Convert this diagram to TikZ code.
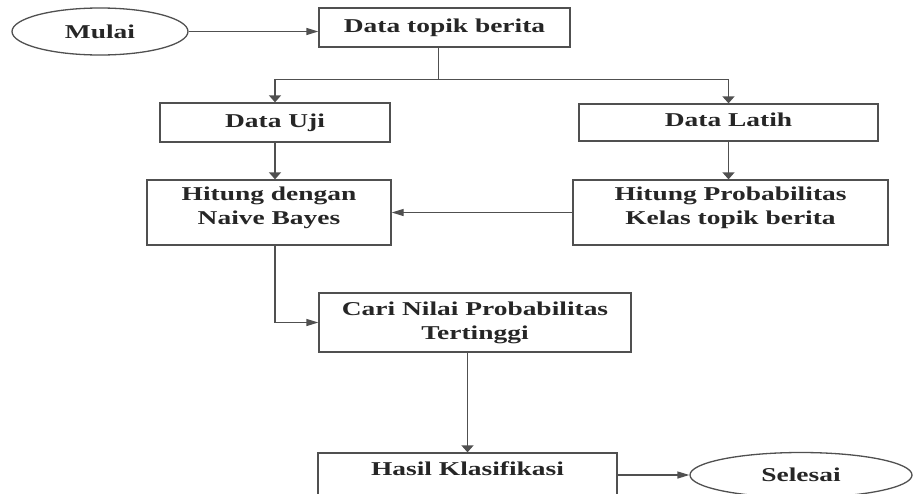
\documentclass[tikz,border=0pt]{standalone}
\usepackage{fontspec}
\setmainfont{Liberation Serif}[FakeStretch=1.4]
\usetikzlibrary{shapes.geometric,arrows.meta}

\definecolor{garis}{HTML}{505050}
\tikzset{
    kotak/.style={draw=garis, line width=0.65pt, inner sep=0pt, align=center,
        text=black!85, font=\fontsize{9.8}{11.75}\selectfont\bfseries},
    oval/.style={kotak, ellipse},
    panah/.style={draw=garis, line width=0.65pt, -{Triangle[length=3.5pt, width=6pt]}},
    panahx/.style={draw=garis, line width=0.65pt, -{Triangle[length=6pt, width=3.5pt]}}
}

\begin{document}
\begin{tikzpicture}[x=0.5pt, y=-0.5pt]
    \useasboundingbox (0,0) rectangle (914,493);
    \clip (0,0) rectangle (914,493);

    \node[oval, minimum width=88pt, minimum height=23.5pt] (mulai) at (100,31.5) {Mulai};
    \node[kotak, minimum width=125.5pt, text height=12pt, text depth=7.5pt] (datatopik) at (444.5,27.5) {Data topik berita};
    \node[kotak, minimum width=115pt, text height=12pt, text depth=7.5pt] (datauji) at (275,122.5) {Data Uji};
    \node[kotak, minimum width=149.5pt, text height=11.25pt, text depth=7.25pt] (datalatih) at (728.5,122.5) {Data Latih};
    \node[kotak, minimum width=122pt, text height=22pt, text depth=10.5pt] (naive) at (269,212.5) {Hitung dengan\\Naive Bayes};
    \node[kotak, minimum width=157.5pt, text height=22pt, text depth=10.5pt] (hitungprob) at (730.5,212.5) {Hitung Probabilitas\\Kelas topik berita};
    \node[kotak, minimum width=156pt, text height=23pt, text depth=6.5pt] (cari) at (475,322.5) {Cari Nilai Probabilitas\\Tertinggi};
    \node[kotak, minimum width=149.5pt, text height=11pt, text depth=19pt] (hasil) at (467.5,483) {Hasil Klasifikasi};
    \node[oval, minimum width=111pt, minimum height=22.5pt] (selesai) at (801,475) {Selesai};

    \draw[panahx] (mulai.east) -- (mulai.east -| datatopik.west);
    \draw[garis, line width=0.65pt] ([xshift=-3pt]datatopik.south) -- ++(0,32) coordinate (cabang);
    \draw[panah] (cabang) -| (datauji.north);
    \draw[panah] (cabang) -| (datalatih.north);
    \draw[panah] (datauji.south) -- (datauji.south |- naive.north);
    \draw[panah] (datalatih.south) -- (datalatih.south |- hitungprob.north);
    \draw[panahx] (hitungprob.west) -- (hitungprob.west -| naive.east);
    \draw[panahx] (datauji.south |- naive.south) |- (cari.west);
    \draw[panah] (hasil.north |- cari.south) -- (hasil.north);
    \draw[panahx] (hasil.east |- selesai.west) -- (selesai.west);
\end{tikzpicture}
\end{document}
